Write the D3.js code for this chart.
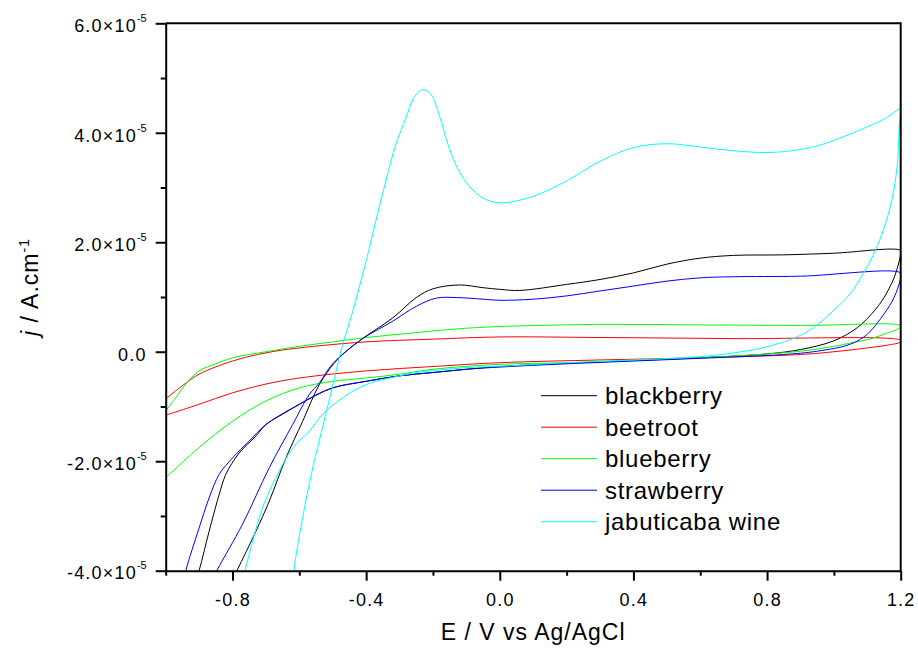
<!DOCTYPE html>
<html lang="en">
<head>
<meta charset="UTF-8">
<script src="https://cdnjs.cloudflare.com/ajax/libs/d3/7.8.5/d3.min.js"></script>
<style>
body{ margin:0; background:#fff; }
text{ font-family:"Liberation Sans", Arial, sans-serif; fill:#000; }
</style>
</head>
<body>
<div id="main-container"></div>
<script>
// cyclic voltammograms, E in V vs Ag/AgCl, j in units of 1e-5 A/cm2
// each loop: forward branch (left to right) then reverse branch (right to left)
const blackberry = [
  [-0.82,-4.4],[-0.787,-4.00],[-0.73,-3.28],[-0.69,-2.73],[-0.64,-1.94],[-0.59,-1.27],[-0.54,-0.60],
  [-0.49,-0.17],[-0.42,0.20],[-0.32,0.62],[-0.25,0.99],[-0.20,1.15],[-0.12,1.22],[-0.05,1.17],[0.00,1.14],
  [0.06,1.12],[0.20,1.23],[0.30,1.32],[0.40,1.44],[0.50,1.60],[0.60,1.71],[0.70,1.76],[0.85,1.77],
  [1.00,1.80],[1.20,1.85],
  [1.20,1.78],[1.18,1.35],[1.15,0.99],[1.12,0.74],[1.07,0.44],[1.00,0.20],[0.90,0.04],[0.80,-0.04],
  [0.60,-0.11],[0.40,-0.16],[0.20,-0.21],[0.00,-0.27],[-0.10,-0.32],[-0.20,-0.38],[-0.30,-0.44],
  [-0.40,-0.54],[-0.50,-0.66],[-0.55,-0.79],[-0.60,-0.96],[-0.65,-1.14],[-0.70,-1.33],[-0.73,-1.54],
  [-0.78,-1.85],[-0.82,-2.24],[-0.84,-2.61],[-0.87,-3.28],[-0.90,-4.00],[-0.92,-4.4]
];
const beetroot = [
  [-1.00,-0.86],[-0.95,-0.62],[-0.90,-0.41],[-0.80,-0.17],[-0.70,-0.02],[-0.60,0.07],[-0.40,0.18],
  [-0.20,0.23],[0.00,0.27],[0.30,0.26],[0.70,0.24],[1.20,0.21],
  [1.20,0.18],[1.16,0.12],[1.10,0.07],[1.00,0.00],[0.90,-0.05],[0.60,-0.11],[0.30,-0.15],[0.00,-0.20],
  [-0.20,-0.27],[-0.40,-0.35],[-0.60,-0.48],[-0.70,-0.59],[-0.80,-0.75],[-0.90,-0.96],[-1.00,-1.16]
];
const blueberry = [
  [-1.00,-1.08],[-0.97,-0.84],[-0.94,-0.59],[-0.90,-0.35],[-0.85,-0.22],[-0.80,-0.11],[-0.70,0.00],
  [-0.60,0.10],[-0.50,0.18],[-0.40,0.26],[-0.30,0.32],[-0.20,0.38],[-0.10,0.43],[0.00,0.46],[0.30,0.50],
  [0.60,0.49],[0.90,0.48],[1.20,0.48],
  [1.20,0.45],[1.15,0.32],[1.10,0.22],[1.05,0.16],[1.00,0.10],[0.90,0.01],[0.80,-0.04],[0.60,-0.11],
  [0.20,-0.20],[0.00,-0.23],[-0.20,-0.32],[-0.30,-0.41],[-0.40,-0.48],[-0.50,-0.54],[-0.60,-0.66],
  [-0.70,-0.90],[-0.80,-1.27],[-0.90,-1.75],[-1.00,-2.30]
];
const strawberry = [
  [-0.88,-4.4],[-0.847,-4.00],[-0.77,-3.15],[-0.69,-2.12],[-0.62,-1.33],[-0.57,-0.78],[-0.54,-0.57],
  [-0.50,-0.22],[-0.42,0.20],[-0.32,0.56],[-0.25,0.83],[-0.19,0.98],[-0.13,0.99],[-0.05,0.96],[0.00,0.94],
  [0.10,0.96],[0.20,1.02],[0.30,1.11],[0.40,1.20],[0.50,1.29],[0.60,1.35],[0.70,1.37],[0.90,1.38],
  [1.20,1.44],
  [1.20,1.35],[1.18,0.99],[1.15,0.69],[1.10,0.32],[1.05,0.14],[0.95,0.01],[0.85,-0.05],[0.60,-0.12],
  [0.40,-0.17],[0.20,-0.22],[0.00,-0.28],[-0.10,-0.32],[-0.20,-0.38],[-0.30,-0.44],[-0.40,-0.54],
  [-0.50,-0.66],[-0.60,-0.96],[-0.70,-1.33],[-0.75,-1.63],[-0.80,-1.94],[-0.84,-2.24],[-0.87,-2.67],
  [-0.90,-3.22],[-0.94,-4.00],[-0.955,-4.4]
];
const jabuticaba = [
  [-0.62,-4.4],[-0.616,-4.00],[-0.592,-3.09],[-0.562,-2.18],[-0.526,-1.27],[-0.499,-0.59],[-0.473,0.07],
  [-0.44,0.74],[-0.40,1.66],[-0.371,2.39],[-0.341,3.12],[-0.311,3.79],[-0.281,4.27],[-0.257,4.64],
  [-0.231,4.79],[-0.206,4.70],[-0.182,4.34],[-0.152,3.73],[-0.122,3.30],[-0.092,3.03],[-0.051,2.81],
  [0.00,2.72],[0.10,2.84],[0.20,3.12],[0.30,3.48],[0.40,3.73],[0.50,3.80],[0.60,3.74],[0.70,3.67],
  [0.80,3.64],[0.87,3.67],[0.95,3.76],[1.05,3.98],[1.15,4.25],[1.20,4.43],
  [1.196,4.16],[1.19,3.43],[1.175,2.81],[1.148,2.22],[1.118,1.77],[1.088,1.43],[1.049,1.06],[1.00,0.76],
  [0.95,0.49],[0.90,0.30],[0.80,0.09],[0.70,-0.02],[0.60,-0.09],[0.40,-0.15],[0.20,-0.20],[0.02,-0.26],
  [-0.10,-0.29],[-0.25,-0.38],[-0.30,-0.44],[-0.40,-0.60],[-0.47,-0.84],[-0.53,-1.14],[-0.57,-1.45],
  [-0.62,-1.76],[-0.67,-2.30],[-0.71,-2.85],[-0.763,-4.00],[-0.78,-4.4]
];

const seriesData = [blackberry, beetroot, blueberry, strawberry, jabuticaba];
const seriesNames = ['blackberry', 'beetroot', 'blueberry', 'strawberry', 'jabuticaba wine'];
const seriesColors = ['#000000', '#ff0000', '#00ff00', '#0000ff', '#00ffff'];

const xMajor = [-0.8, -0.4, 0.0, 0.4, 0.8, 1.2];
const xMinor = [-1.0, -0.6, -0.2, 0.2, 0.6, 1.0];
const yMajor = [-4, -2, 0, 2, 4, 6];
const yMinor = [-3, -1, 1, 3, 5];

const w = 918, h = 649;
const x = d3.scaleLinear().domain([-1.0, 1.2]).range([165.7, 900.7]);
const y = d3.scaleLinear().domain([-4, 6]).range([570.7, 23.3]);
const [x0, x1] = x.range();
const [y0, y1] = y.range();

const svg = d3.select('#main-container').append('svg').attr('width', w).attr('height', h);

svg.append('defs').append('clipPath').attr('id', 'plot-clip')
  .append('rect').attr('x', x0).attr('y', y1).attr('width', x1 - x0).attr('height', y0 - y1);

const line = d3.line().x(d => x(d[0])).y(d => y(d[1])).curve(d3.curveCatmullRom.alpha(0.5));

const curves = svg.append('g').attr('clip-path', 'url(#plot-clip)');
seriesData.forEach((data, i) => {
  curves.append('path').datum(data).attr('d', line)
    .attr('fill', 'none').attr('stroke', seriesColors[i]).attr('stroke-width', 1);
});

// frame top/right
svg.append('path').attr('d', 'M' + x0 + ',' + y1 + 'H' + x1 + 'V' + y0)
  .attr('fill', 'none').attr('stroke', '#000').attr('stroke-width', 2);

// x axis
const xAxisG = svg.append('g').attr('transform', 'translate(0,' + y0 + ')')
  .call(d3.axisBottom(x).tickValues(xMajor).tickSize(10).tickSizeOuter(0).tickPadding(13).tickFormat(d => d.toFixed(1)));
svg.append('g').attr('transform', 'translate(0,' + y0 + ')')
  .call(d3.axisBottom(x).tickValues(xMinor).tickSize(5).tickFormat(''))
  .call(g => g.select('.domain').remove());

// y axis
const yAxisG = svg.append('g').attr('transform', 'translate(' + x0 + ',0)')
  .call(d3.axisLeft(y).tickValues(yMajor).tickSize(10).tickSizeOuter(0).tickPadding(9).tickFormat(''));
svg.append('g').attr('transform', 'translate(' + x0 + ',0)')
  .call(d3.axisLeft(y).tickValues(yMinor).tickSize(5).tickFormat(''))
  .call(g => g.select('.domain').remove());

svg.selectAll('.domain').attr('stroke-width', 2);
svg.selectAll('.tick line').attr('stroke-width', 2);

xAxisG.selectAll('.tick text')
  .attr('font-family', '"Liberation Sans", Arial, sans-serif')
  .attr('font-size', 18).attr('letter-spacing', '1.2px').attr('fill', '#000');

yAxisG.selectAll('.tick text').each(function(d) {
  const t = d3.select(this)
    .attr('font-family', '"Liberation Sans", Arial, sans-serif')
    .attr('font-size', 18).attr('fill', '#000').attr('dy', '0.46em');
  if (d === 0) {
    t.append('tspan').attr('letter-spacing', '1.2px').text('0.0');
  } else {
    t.append('tspan').attr('letter-spacing', '1.2px').text(d.toFixed(1) + '\u00d710');
    t.append('tspan').attr('font-size', 11).attr('dy', -10).text('-5');
  }
});

// axis titles
svg.append('text')
  .attr('x', (x0 + x1) / 2).attr('y', 640)
  .attr('text-anchor', 'middle').attr('font-size', 23).attr('letter-spacing', '1px')
  .text('E / V vs Ag/AgCl');

const yTitle = svg.append('text')
  .attr('transform', 'translate(38,' + 287 + ') rotate(-90)')
  .attr('text-anchor', 'middle').attr('font-size', 23).attr('letter-spacing', '1px');
yTitle.append('tspan').attr('font-style', 'italic').text('j');
yTitle.append('tspan').text(' / A.cm');
yTitle.append('tspan').attr('font-size', 14).attr('dy', -9).text('-1');

// legend
const legend = svg.append('g').attr('transform', 'translate(541,395.7)');
seriesNames.forEach((name, i) => {
  const row = legend.append('g').attr('transform', 'translate(0,' + (i * 31.5) + ')');
  row.append('line').attr('x1', 0).attr('x2', 56).attr('y1', 0).attr('y2', 0)
    .attr('stroke', seriesColors[i]).attr('stroke-width', 1);
  row.append('text').attr('x', 64).attr('y', 8.6)
    .attr('font-size', 24).attr('letter-spacing', '0.7px').text(name);
});
</script>
</body>
</html>
